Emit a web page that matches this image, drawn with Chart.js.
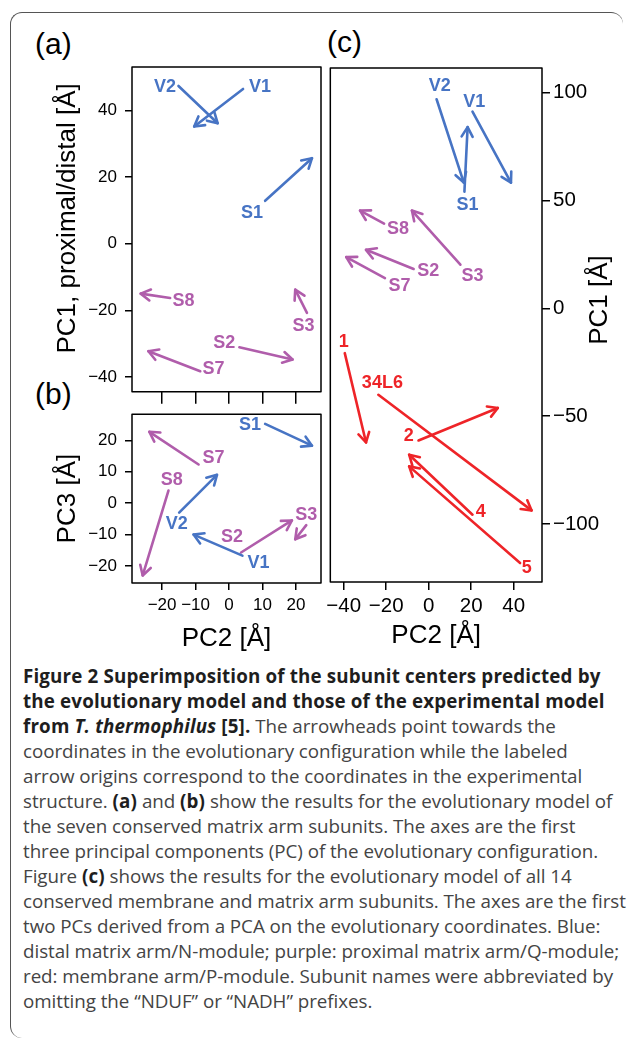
<!DOCTYPE html>
<html>
<head>
<meta charset="utf-8">
<script src="https://cdn.jsdelivr.net/npm/chart.js@4.4.1/dist/chart.umd.min.js"></script>
<style>
  html, body { margin: 0; padding: 0; background: #fff; }
  body { width: 629px; height: 1041px; position: relative; overflow: hidden; }
  canvas { position: absolute; }
  .frame {
    position: absolute; left: 10px; top: 12px; width: 612px; height: 1025px;
    border-top: 1.5px solid #555; border-left: 1.5px solid #555;
    border-top-left-radius: 12px; border-bottom-left-radius: 12px; border-top-right-radius: 12px;
  }
  .tag { position: absolute; font: 30px "Liberation Sans", Arial, sans-serif; line-height: 1; color: #000; }
  .caption {
    position: absolute; left: 23px; top: 664px; width: 606px;
    font-family: "Open Sans", sans-serif; font-size: 18.8px; line-height: 25px;
    color: #444; white-space: nowrap; letter-spacing: -0.05px;
  }
  .caption b { color: #1e1e1e; font-weight: 700; letter-spacing: 0.15px; }
</style>
</head>
<body>
<div class="frame"></div>
<div class="tag" style="left:35px;top:29px">(a)</div>
<div class="tag" style="left:35px;top:379px">(b)</div>
<div class="tag" style="left:327px;top:27px">(c)</div>

<canvas id="chartA" width="330" height="410" style="left:0;top:0"></canvas>
<canvas id="chartB" width="330" height="264" style="left:0;top:396px"></canvas>
<canvas id="chartC" width="307" height="660" style="left:322px;top:0"></canvas>

<div class="caption">
<b>Figure 2 Superimposition of the subunit centers predicted by</b><br>
<b>the evolutionary model and those of the experimental model</b><br>
<b>from <i>T. thermophilus</i> [5].</b> The arrowheads point towards the<br>
coordinates in the evolutionary configuration while the labeled<br>
arrow origins correspond to the coordinates in the experimental<br>
structure. <b>(a)</b> and <b>(b)</b> show the results for the evolutionary model of<br>
the seven conserved matrix arm subunits. The axes are the first<br>
three principal components (PC) of the evolutionary configuration.<br>
Figure <b>(c)</b> shows the results for the evolutionary model of all 14<br>
conserved membrane and matrix arm subunits. The axes are the first<br>
two PCs derived from a PCA on the evolutionary coordinates. Blue:<br>
distal matrix arm/N-module; purple: proximal matrix arm/Q-module;<br>
red: membrane arm/P-module. Subunit names were abbreviated by<br>
omitting the “NDUF” or “NADH” prefixes.
</div>

<script>
// module colours: N = distal matrix arm, Q = proximal matrix arm, P = membrane arm
const groupColors = { N: '#4774c4', Q: '#b05dab', P: '#ee2428' };

// (a) PC2 vs PC1 -- arrow from experimental (labelled) to evolutionary position
const aNames  = ['V2', 'V1', 'S1', 'S8', 'S3', 'S2', 'S7'];
const aGroups = ['N', 'N', 'N', 'Q', 'Q', 'Q', 'Q'];
const aFromX  = [-15.1, 4.2, 10.8, -17.6, 23.3, 3.1, -8.6];
const aFromY  = [47.4, 46.5, 12.9, -16.3, -20.8, -31.1, -38.3];
const aToX    = [-3.4, -10.4, 24.8, -26.4, 19.8, 19.0, -24.1];
const aToY    = [36.2, 35.2, 25.7, -15.0, -13.8, -34.8, -32.3];
const aLabelX = [-19.1, 9.3, 6.9, -13.6, 22.3, -1.4, -4.6];
const aLabelY = [47.2, 47.2, 9.2, -17.3, -24.8, -29.8, -37.6];

// (b) PC2 vs PC3
const bNames  = ['S1', 'S7', 'S8', 'V2', 'V1', 'S2', 'S3'];
const bGroups = ['N', 'Q', 'Q', 'N', 'N', 'Q', 'Q'];
const bFromX  = [10.8, -9.1, -18.1, -14.9, 4.0, 3.6, 23.1];
const bFromY  = [25.2, 12.3, 4.0, -3.0, -16.7, -15.7, -7.0];
const bToX    = [24.8, -23.8, -25.8, -3.6, -10.6, 18.8, 19.8];
const bToY    = [18.3, 22.7, -23.0, 9.0, -10.0, -5.5, -11.5];
const bLabelX = [6.3, -4.6, -17.1, -15.6, 8.8, 0.9, 23.1];
const bLabelY = [25.0, 14.2, 7.2, -6.7, -19.0, -10.7, -3.8];

// (c) all 14 subunits, PC2 vs PC1
const cNames  = ['V2', 'V1', 'S1', 'S8', 'S3', 'S2', 'S7', '1', '34L6', '2', '4', '5'];
const cGroups = ['N', 'N', 'N', 'Q', 'Q', 'Q', 'Q', 'P', 'P', 'P', 'P', 'P'];
const cFromX  = [3.7, 20.6, 16.8, -21.0, 14.9, -7.1, -20.6, -39.5, -23.7, -4.8, 20.6, 43.0];
const cFromY  = [96.9, 91.2, 54.1, 39.2, 20.2, 18.2, 14.0, -20.8, -40.1, -61.3, -95.7, -118.1];
const cToX    = [16.5, 38.7, 18.3, -32.3, -7.9, -29.5, -38.8, -29.5, 48.4, 32.5, -9.2, -9.2];
const cToY    = [58.3, 58.3, 84.0, 45.3, 45.3, 27.1, 23.7, -62.2, -93.7, -46.2, -67.9, -73.3];
const cLabelX = [5.2, 21.4, 18.3, -14.4, 20.6, -0.2, -13.8, -40.0, -21.8, -9.4, 24.5, 46.1];
const cLabelY = [103.1, 95.8, 48.0, 36.7, 15.1, 17.1, 10.4, -15.8, -34.7, -59.4, -94.6, -120.4];

// tick labels
const ticksPC2ab = [-20, -10, 0, 10, 20];
const ticksPC1a  = [-40, -20, 0, 20, 40];
const ticksPC3b  = [-20, -10, 0, 10, 20];
const ticksPC2c  = [-40, -20, 0, 20, 40];
const ticksPC1c  = [-100, -50, 0, 50, 100];

const FONT = '"Liberation Sans", Arial, Helvetica, sans-serif';
const minus = v => String(v).replace('-', '\u2212');
const fixTicks = list => scale => { scale.ticks = list.map(v => ({ value: v })); };

function arrowSets(names, groups, fx, fy, tx, ty, lx, ly) {
    return names.map((n, i) => ({
        label: n,
        data: [{ x: fx[i], y: fy[i] }, { x: tx[i], y: ty[i] }],
        labelAt: { x: lx[i], y: ly[i] },
        showLine: true,
        borderColor: groupColors[groups[i]],
        borderWidth: 2.6,
        borderCapStyle: 'round',
        pointRadius: 0,
        clip: false
    }));
}

// arrowheads, subunit labels, plot box and rotated y titles (reading upwards)
const panelExtras = {
    id: 'panelExtras',
    afterDatasetsDraw(chart, args, opts) {
        const { ctx, chartArea: area, scales: { x, y } } = chart;
        ctx.save();
        chart.data.datasets.forEach((ds, i) => {
            const [p0, p1] = chart.getDatasetMeta(i).data;
            const ang = Math.atan2(p1.y - p0.y, p1.x - p0.x);
            const head = 11, spread = Math.PI / 6;
            ctx.strokeStyle = ds.borderColor;
            ctx.lineWidth = ds.borderWidth;
            ctx.lineCap = 'round';
            ctx.lineJoin = 'round';
            ctx.beginPath();
            ctx.moveTo(p1.x - head * Math.cos(ang - spread), p1.y - head * Math.sin(ang - spread));
            ctx.lineTo(p1.x, p1.y);
            ctx.lineTo(p1.x - head * Math.cos(ang + spread), p1.y - head * Math.sin(ang + spread));
            ctx.stroke();

            ctx.fillStyle = ds.borderColor;
            ctx.font = 'bold 18px ' + FONT;
            ctx.textAlign = 'center';
            ctx.textBaseline = 'middle';
            ctx.fillText(ds.label, x.getPixelForValue(ds.labelAt.x), y.getPixelForValue(ds.labelAt.y));
        });

        ctx.strokeStyle = '#000';
        ctx.lineWidth = 1.5;
        ctx.strokeRect(area.left, area.top, area.right - area.left, area.bottom - area.top);

        if (opts.yTitle) {
            const t = opts.yTitle;
            const cx = t.side === 'right' ? area.right + t.gap : area.left - t.gap;
            ctx.translate(cx, (area.top + area.bottom) / 2 + t.shift);
            ctx.rotate(-Math.PI / 2);
            ctx.fillStyle = '#000';
            ctx.font = '26px ' + FONT;
            ctx.textAlign = 'center';
            ctx.textBaseline = 'middle';
            ctx.fillText(t.text, 0, 0);
        }
        ctx.restore();
    }
};

function baseOptions(padding, extras) {
    return {
        responsive: false,
        animation: false,
        devicePixelRatio: 1,
        layout: { padding },
        plugins: { legend: { display: false }, tooltip: { enabled: false }, panelExtras: extras || {} }
    };
}

const axisGrid = len => ({ drawOnChartArea: false, tickLength: len, color: '#000', lineWidth: 1.5 });

// (a)
new Chart(document.getElementById('chartA'), {
    type: 'scatter',
    data: { datasets: arrowSets(aNames, aGroups, aFromX, aFromY, aToX, aToY, aLabelX, aLabelY) },
    options: Object.assign(baseOptions({ left: 0, top: 67, right: 9, bottom: 0 },
        { yTitle: { text: 'PC1, proximal/distal [Å]', side: 'left', gap: 64, shift: -11 } }), {
        scales: {
            x: {
                min: -29, max: 27.5,
                afterBuildTicks: fixTicks(ticksPC2ab),
                afterFit: s => { s.height = 18; },
                ticks: { display: false },
                grid: axisGrid(12),
                border: { display: false }
            },
            y: {
                min: -44.5, max: 53.1,
                afterBuildTicks: fixTicks(ticksPC1a),
                afterFit: s => { s.width = 132; },
                ticks: { color: '#000', padding: 8, font: { size: 17, family: FONT }, callback: minus },
                grid: axisGrid(7),
                border: { display: false }
            }
        }
    }),
    plugins: [panelExtras]
});

// (b)
new Chart(document.getElementById('chartB'), {
    type: 'scatter',
    data: { datasets: arrowSets(bNames, bGroups, bFromX, bFromY, bToX, bToY, bLabelX, bLabelY) },
    options: Object.assign(baseOptions({ left: 0, top: 8, right: 9, bottom: 0 }), {
        scales: {
            x: {
                min: -29, max: 27.5,
                afterBuildTicks: fixTicks(ticksPC2ab),
                afterFit: s => { s.height = 77; },
                ticks: { color: '#000', padding: 5, maxRotation: 0, autoSkip: false, font: { size: 17, family: FONT }, callback: minus },
                grid: axisGrid(7),
                border: { display: false },
                title: {
                    display: true, text: 'PC2 [Å]', color: '#000',
                    font: { size: 26, family: FONT }, padding: { top: 0, bottom: 6 }
                }
            },
            y: {
                min: -25.4, max: 28.3,
                afterBuildTicks: fixTicks(ticksPC3b),
                afterFit: s => { s.width = 132; },
                ticks: { color: '#000', padding: 8, font: { size: 17, family: FONT }, callback: minus },
                grid: axisGrid(7),
                border: { display: false },
                title: {
                    display: true, text: 'PC3 [Å]', color: '#000',
                    font: { size: 26, family: FONT }, padding: { top: 52, bottom: 0 }
                }
            }
        }
    }),
    plugins: [panelExtras]
});

// (c)
new Chart(document.getElementById('chartC'), {
    type: 'scatter',
    data: { datasets: arrowSets(cNames, cGroups, cFromX, cFromY, cToX, cToY, cLabelX, cLabelY) },
    options: Object.assign(baseOptions({ left: 5, top: 68, right: 0, bottom: 0 },
        { yTitle: { text: 'PC1 [Å]', side: 'right', gap: 58, shift: -25 } }), {
        scales: {
            x: {
                min: -46.3, max: 53.3,
                afterBuildTicks: fixTicks(ticksPC2c),
                afterFit: s => { s.height = 78; },
                ticks: { color: '#000', padding: 4, maxRotation: 0, autoSkip: false, font: { size: 20.5, family: FONT }, callback: minus },
                grid: axisGrid(8),
                border: { display: false },
                title: {
                    display: true, text: 'PC2 [Å]', color: '#000',
                    font: { size: 26, family: FONT }, padding: { top: 0, bottom: 9 }
                }
            },
            y: {
                position: 'right',
                min: -126.9, max: 111.4,
                afterBuildTicks: fixTicks(ticksPC1c),
                afterFit: s => { s.width = 87; },
                ticks: { color: '#000', padding: 3, font: { size: 20.5, family: FONT }, callback: minus },
                grid: axisGrid(8),
                border: { display: false }
            }
        }
    }),
    plugins: [panelExtras]
});
</script>
</body>
</html>
